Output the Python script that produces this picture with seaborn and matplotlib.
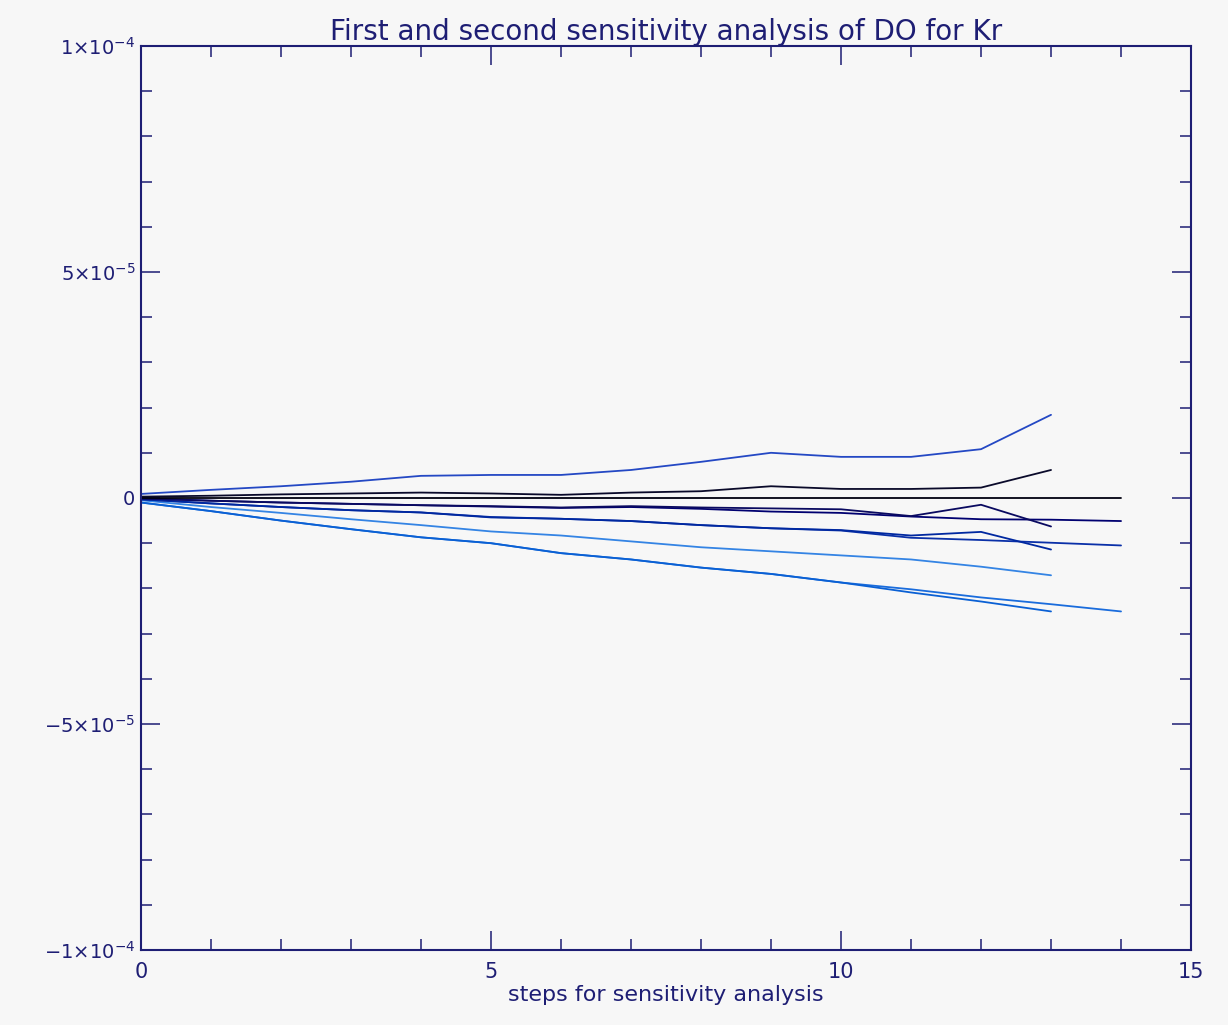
import matplotlib
matplotlib.use('Agg')
import matplotlib.pyplot as plt
import matplotlib.ticker as mticker
import numpy as np
import pandas as pd
import seaborn as sns

# sensitivity curves, values in units of 1e-6
steps_a = list(range(14))   # second analysis: steps 0..13
steps_b = list(range(15))   # first analysis: steps 0..14

line1 = [0.9, 1.8, 2.6, 3.6, 4.9, 5.1, 5.1, 6.2, 8.0, 10.0, 9.1, 9.1, 10.8, 18.4]
line2 = [0.3, 0.5, 0.8, 1.0, 1.2, 1.0, 0.7, 1.2, 1.5, 2.6, 2.0, 2.0, 2.3, 6.2]
line3 = [0.0] * 15
line4a = [-0.1, -0.6, -1.0, -1.3, -1.6, -1.8, -2.1, -1.8, -2.1, -2.3, -2.5, -4.0, -1.5, -6.3]
line4b = [-0.1, -0.6, -1.0, -1.3, -1.6, -1.9, -2.2, -2.0, -2.4, -3.0, -3.3, -4.1, -4.7, -4.8, -5.1]
line5a = [-0.3, -1.2, -2.0, -2.7, -3.2, -4.3, -4.6, -5.1, -6.0, -6.7, -7.1, -8.3, -7.5, -11.4]
line5b = [-0.3, -1.2, -2.0, -2.7, -3.2, -4.2, -4.6, -5.1, -6.0, -6.7, -7.2, -8.8, -9.3, -9.9, -10.5]
line6 = [-0.5, -2.0, -3.3, -4.7, -6.0, -7.4, -8.3, -9.6, -10.9, -11.8, -12.7, -13.6, -15.2, -17.1]
line7a = [-1.0, -2.9, -5.0, -6.9, -8.7, -10.0, -12.2, -13.6, -15.4, -16.8, -18.7, -20.9, -22.9, -25.1]
line7b = [-1.0, -2.9, -5.0, -6.9, -8.7, -10.0, -12.2, -13.6, -15.4, -16.8, -18.7, -20.2, -22.0, -23.5, -25.1]

series = {
    'l7b': (steps_b, line7b, '#1a6cdc'),
    'l7a': (steps_a, line7a, '#0a60d4'),
    'l6': (steps_a, line6, '#3484e4'),
    'l5b': (steps_b, line5b, '#0a30a8'),
    'l5a': (steps_a, line5a, '#0028a0'),
    'l4b': (steps_b, line4b, '#000070'),
    'l4a': (steps_a, line4a, '#0a0a60'),
    'l1': (steps_a, line1, '#2448c4'),
    'l2': (steps_a, line2, '#0a0a2a'),
    'l3': (steps_b, line3, '#000010'),
}

rows = []
for name, (xs, ys, _) in series.items():
    for x, y in zip(xs, ys):
        rows.append({'series': name, 'step': x, 'value': y * 1e-6})
df = pd.DataFrame(rows)
palette = {k: v[2] for k, v in series.items()}

sns.set_style('white')
plt.rcParams['font.family'] = ['DejaVu Sans']
navy = '#1e1e74'
bg = '#f7f7f7'

fig = plt.figure(figsize=(12.28, 10.25), dpi=100, facecolor=bg)
ax = fig.add_axes([0.1148, 0.0732, 0.8551, 0.8819])
ax.set_facecolor(bg)

sns.lineplot(data=df, x='step', y='value', hue='series', palette=palette,
             hue_order=list(series.keys()), legend=False, linewidth=1.3,
             estimator=None, ax=ax)

ax.set_xlim(0, 15)
ax.set_ylim(-1e-4, 1e-4)

ax.xaxis.set_major_locator(mticker.MultipleLocator(5))
ax.xaxis.set_minor_locator(mticker.MultipleLocator(1))
ax.yaxis.set_major_locator(mticker.MultipleLocator(5e-5))
ax.yaxis.set_minor_locator(mticker.MultipleLocator(1e-5))

ylabels = {1e-4: '1×10$^{-4}$', 5e-5: '5×10$^{-5}$', 0: '0',
           -5e-5: '−5×10$^{-5}$', -1e-4: '−1×10$^{-4}$'}

def yfmt(v, pos):
    for k, s in ylabels.items():
        if abs(v - k) < 1e-9:
            return s
    return ''

ax.yaxis.set_major_formatter(mticker.FuncFormatter(yfmt))
ax.xaxis.set_major_formatter(mticker.FuncFormatter(lambda v, p: f'{int(round(v))}'))

ax.tick_params(which='both', direction='in', top=True, right=True,
               bottom=True, left=True,
               color=navy, labelcolor=navy, width=1.1, labelsize=14)
ax.tick_params(which='major', length=14)
ax.tick_params(which='minor', length=8)
ax.tick_params(axis='x', which='both', pad=9, labelsize=15)
ax.tick_params(axis='y', which='both', pad=4)

for sp in ax.spines.values():
    sp.set_color(navy)
    sp.set_linewidth(1.5)

ax.set_xlabel('steps for sensitivity analysis', color=navy, fontsize=16, labelpad=2)
ax.set_ylabel('')
ax.set_title('First and second sensitivity analysis of DO for Kr', color=navy,
             fontsize=20, pad=4)

fig.savefig('out.png', dpi=100, facecolor=bg)
